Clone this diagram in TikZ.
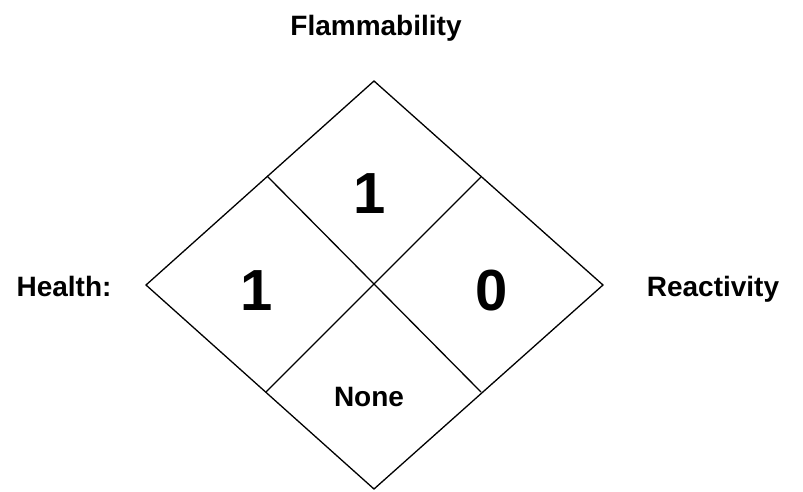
\documentclass[tikz,border=0pt]{standalone}
\usepackage{fontspec}
\setmainfont{Liberation Sans}
\begin{document}
\begin{tikzpicture}[x=1pt,y=-1pt,
  edge/.style={draw=black,line width=1.3pt,line join=miter},
  lbl/.style={font=\bfseries\fontsize{28}{32}\selectfont,anchor=base,inner sep=0pt},
  big/.style={font=\bfseries\fontsize{58}{64}\selectfont,anchor=base,inner sep=0pt},
  small/.style={font=\bfseries\fontsize{28}{32}\selectfont,anchor=base,inner sep=0pt}]
\useasboundingbox (0,0) rectangle (803,491);
\coordinate (T) at (374,81);
\coordinate (L) at (146,285);
\coordinate (R) at (603,285);
\coordinate (B) at (374,489);
\coordinate (UL) at (267,176);
\coordinate (UR) at (481,177);
\coordinate (LL) at (266,392);
\coordinate (LR) at (481,392);
\draw[edge] (T) -- (R) -- (B) -- (L) -- cycle;
\draw[edge] (UL) -- (LR);
\draw[edge] (UR) -- (LL);
\node[lbl] (fl) at (376,35) {Flammability};
\node[lbl] (he) at (64,296) {Health:};
\node[lbl] (re) at (713,296) {Reactivity};
\node[big] (n1) at (370,213) {1};
\node[big] (n2) at (257,310) {1};
\node[big] (n3) at (492,310) {0};
\node[small] (no) at (369,406) {None};
\end{tikzpicture}
\end{document}
